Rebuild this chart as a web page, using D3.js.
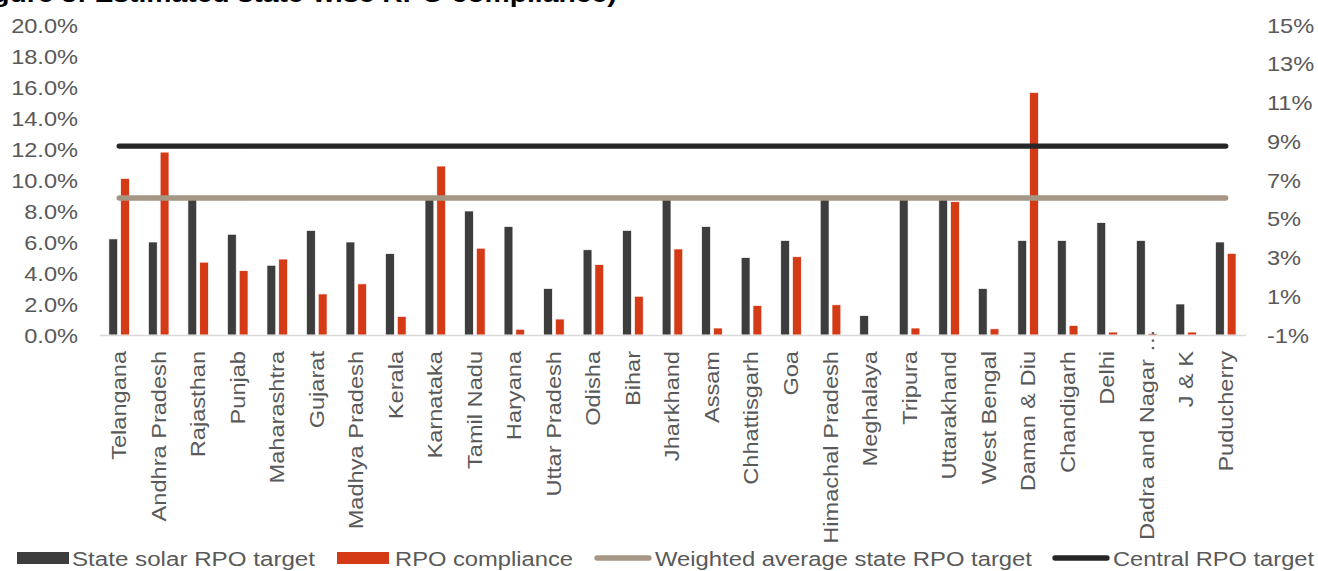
<!DOCTYPE html>
<html>
<head>
<meta charset="utf-8">
<script src="https://cdn.jsdelivr.net/npm/d3@7"></script>
<style>
  html, body { margin: 0; padding: 0; background: #fff; }
  svg { display: block; font-family: "Liberation Sans", Arial, sans-serif; }
</style>
</head>
<body>
<svg id="chart" width="1318" height="571"></svg>
<script>
// State-wise solar RPO target vs. actual compliance (%)
const states = [
  "Telangana", "Andhra Pradesh", "Rajasthan", "Punjab", "Maharashtra", "Gujarat",
  "Madhya Pradesh", "Kerala", "Karnataka", "Tamil Nadu", "Haryana", "Uttar Pradesh",
  "Odisha", "Bihar", "Jharkhand", "Assam", "Chhattisgarh", "Goa", "Himachal Pradesh",
  "Meghalaya", "Tripura", "Uttarakhand", "West Bengal", "Daman & Diu", "Chandigarh",
  "Delhi", "Dadra and Nagar …", "J & K", "Puducherry"
];
const stateTarget = [
  6.2, 6.0, 8.75, 6.5, 4.5, 6.75, 6.0, 5.25, 8.75, 8.0, 7.0, 3.0,
  5.5, 6.75, 8.75, 7.0, 5.0, 6.1, 8.75, 1.25, 8.75, 8.75, 3.0, 6.1,
  6.1, 7.25, 6.1, 2.0, 6.0
];
const compliance = [
  10.1, 11.8, 4.7, 4.15, 4.9, 2.65, 3.3, 1.2, 10.9, 5.6, 0.37, 1.03,
  4.55, 2.5, 5.55, 0.45, 1.9, 5.05, 1.95, 0, 0.45, 8.6, 0.4, 15.65,
  0.62, 0.19, 0.1, 0.19, 5.27
];
// Reference lines, plotted on the secondary axis (%)
const weightedAvgTarget = 6.07;
const centralTarget = 8.75;

const leftTicks = [0, 2, 4, 6, 8, 10, 12, 14, 16, 18, 20];
const rightTicks = [-1, 1, 3, 5, 7, 9, 11, 13, 15];

const seriesNames = ["State solar RPO target", "RPO compliance",
                     "Weighted average state RPO target", "Central RPO target"];
const colors = {
  target: "#3d3d3d",
  compliance: "#d53a17",
  weighted: "#a69784",
  central: "#262626",
  text: "#595959",
  axis: "#d9d9d9"
};

const STRETCH = 1.18;   // wide lettering used throughout the figure
const svg = d3.select("#chart");

const plot = { left: 99.4, right: 1245.5, top: 25, bottom: 335 };

const x = d3.scaleBand().domain(states).range([plot.left, plot.right]).padding(0);
const xs = d3.scaleBand().domain(["target", "compliance"]).range([-10.3, 10.3]).paddingInner(0.25);
const yL = d3.scaleLinear().domain([0, 20]).range([plot.bottom, plot.top]);
const yR = d3.scaleLinear().domain([-1, 15]).range([plot.bottom, plot.top]);
const cx = d => x(d) + x.bandwidth() / 2;

// Title (top of figure, running off the upper edge)
svg.append("text")
  .attr("transform", `translate(-33,1.5) scale(${STRETCH},1)`)
  .attr("font-size", 24).attr("font-weight", "bold").attr("fill", "#000")
  .text("Figure 5: Estimated state-wise RPO compliance)");

// Bars
const rows = states.map((s, i) => ({ s, target: stateTarget[i], compliance: compliance[i] }));
const groups = svg.append("g").selectAll("g").data(rows).join("g")
  .attr("transform", d => `translate(${cx(d.s)},0)`);
["target", "compliance"].forEach(key => {
  groups.filter(d => d[key] > 0).append("rect")
    .attr("x", xs(key))
    .attr("width", xs.bandwidth())
    .attr("y", d => yL(d[key]))
    .attr("height", d => yL(0) - yL(d[key]))
    .attr("fill", colors[key])
    .attr("stroke", "#ffffff").attr("stroke-width", 0.7);
});

// Category axis
const xAxis = svg.append("g")
  .attr("transform", `translate(0,${plot.bottom})`)
  .call(d3.axisBottom(x).tickSize(0).tickSizeOuter(0));
xAxis.select(".domain").attr("stroke", colors.axis).attr("stroke-width", 1.6);
xAxis.selectAll(".tick text")
  .attr("x", 0).attr("y", 0).attr("dy", "0.35em")
  .attr("text-anchor", "end")
  // truncated names carry their ellipsis up toward the axis line
  .attr("transform", d => `translate(0,${d.endsWith("…") ? -6 : 16}) rotate(-90) scale(${STRETCH},1)`)
  .attr("font-size", 20).attr("font-family", "Liberation Sans, Arial, sans-serif")
  .attr("fill", colors.text);

// Left value axis
const leftAxis = svg.append("g")
  .attr("transform", "translate(78,0)")
  .call(d3.axisLeft(yL).tickValues(leftTicks).tickFormat(d => d.toFixed(1) + "%").tickSize(0));
leftAxis.select(".domain").remove();
leftAxis.selectAll(".tick text")
  .attr("x", 0).attr("dy", "0.35em")
  .attr("text-anchor", "end")
  .attr("transform", `scale(${STRETCH},1)`)
  .attr("font-size", 20).attr("font-family", "Liberation Sans, Arial, sans-serif")
  .attr("fill", colors.text);

// Right value axis
const rightAxis = svg.append("g")
  .attr("transform", "translate(1267,0)")
  .call(d3.axisRight(yR).tickValues(rightTicks).tickFormat(d => d + "%").tickSize(0));
rightAxis.select(".domain").remove();
rightAxis.selectAll(".tick text")
  .attr("x", 0).attr("dy", "0.35em")
  .attr("text-anchor", "start")
  .attr("transform", `scale(${STRETCH},1)`)
  .attr("font-size", 20).attr("font-family", "Liberation Sans, Arial, sans-serif")
  .attr("fill", colors.text);

// Reference lines across all states
const line = d3.line().x(d => cx(d.s)).y(d => yR(d.v));
[[weightedAvgTarget, colors.weighted], [centralTarget, colors.central]].forEach(([v, c]) => {
  svg.append("path")
    .datum(states.map(s => ({ s, v })))
    .attr("d", line)
    .attr("fill", "none")
    .attr("stroke", c).attr("stroke-width", 5.3)
    .attr("stroke-linecap", "round");
});

// Legend
const legend = svg.append("g").attr("font-size", 20).attr("fill", colors.text);
const legendY = 558;
const legendItems = [
  { name: seriesNames[0], kind: "rect", color: colors.target, sx: 17, sw: 52, tx: 72, tw: 243 },
  { name: seriesNames[1], kind: "rect", color: colors.compliance, sx: 337, sw: 52, tx: 395, tw: 178 },
  { name: seriesNames[2], kind: "line", color: colors.weighted, sx: 597, sw: 52, tx: 655, tw: 377 },
  { name: seriesNames[3], kind: "line", color: colors.central, sx: 1055, sw: 52, tx: 1113, tw: 201 }
];
legendItems.forEach(it => {
  if (it.kind === "rect") {
    legend.append("rect").attr("x", it.sx).attr("y", legendY - 6)
      .attr("width", it.sw).attr("height", 12).attr("fill", it.color);
  } else {
    legend.append("line").attr("x1", it.sx).attr("x2", it.sx + it.sw)
      .attr("y1", legendY).attr("y2", legendY)
      .attr("stroke", it.color).attr("stroke-width", 5.3).attr("stroke-linecap", "round");
  }
  legend.append("text")
    .attr("x", it.tx).attr("y", legendY + 7.5)
    .attr("textLength", it.tw).attr("lengthAdjust", "spacingAndGlyphs")
    .text(it.name);
});
</script>
</body>
</html>
